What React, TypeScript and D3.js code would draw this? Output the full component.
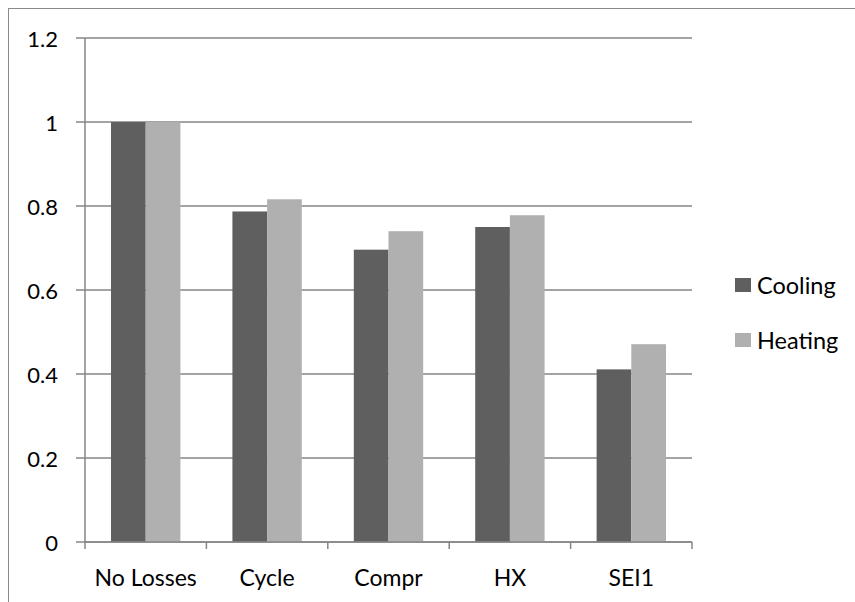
import React from "react";
import * as d3 from "d3";

const categories = ["No Losses", "Cycle", "Compr", "HX", "SEI1"];
const seriesNames = ["Cooling", "Heating"];
const coolingValues = [1.0, 0.787, 0.696, 0.75, 0.411];
const heatingValues = [1.0, 0.816, 0.74, 0.778, 0.471];
const yTicks = [0, 0.2, 0.4, 0.6, 0.8, 1, 1.2];
const seriesColors = ["#5f5f5f", "#b0b0b0"];

const W = 855;
const H = 602;
const plot = { left: 85, right: 692, top: 38, bottom: 542 };
const FONT = "Lato, 'Open Sans', sans-serif";

export default function App() {
  const x = d3
    .scaleBand<string>()
    .domain(categories)
    .range([plot.left, plot.right])
    .paddingInner(0)
    .paddingOuter(0);
  const inner = d3
    .scaleBand<string>()
    .domain(seriesNames)
    .range([0, x.bandwidth()])
    .paddingInner(0)
    .paddingOuter(0.75);
  const y = d3.scaleLinear().domain([0, 1.2]).range([plot.bottom, plot.top]);

  const series = [coolingValues, heatingValues];
  const gridColor = "#868686";

  return (
    <svg
      width={W}
      height={H}
      style={{ position: "absolute", left: 0, top: 0, background: "#fff" }}
      fontFamily={FONT}
    >
      <rect x={8.5} y={8.5} width={W + 20} height={H + 20} fill="#fff" stroke="#8a8a8a" strokeWidth={1} />

      {/* horizontal gridlines and y tick labels */}
      {yTicks.map((t) => (
        <g key={t}>
          <line
            x1={plot.left - 9}
            x2={plot.right}
            y1={y(t)}
            y2={y(t)}
            stroke={gridColor}
            strokeWidth={1.5}
          />
          <text
            x={58}
            y={y(t)}
            textAnchor="end"
            dominantBaseline="central"
            fontSize={22}
            fill="#000"
          >
            {t}
          </text>
        </g>
      ))}

      {/* bars */}
      {categories.map((c, i) => (
        <g key={c} transform={`translate(${x(c)},0)`}>
          {series.map((vals, s) => (
            <rect
              key={s}
              x={inner(seriesNames[s])}
              y={y(vals[i])}
              width={inner.bandwidth()}
              height={y(0) - y(vals[i])}
              fill={seriesColors[s]}
            />
          ))}
        </g>
      ))}

      {/* y axis line */}
      <line x1={plot.left} x2={plot.left} y1={plot.top} y2={plot.bottom} stroke={gridColor} strokeWidth={1.5} />
      {/* x axis line and ticks */}
      <line x1={plot.left} x2={plot.right} y1={plot.bottom} y2={plot.bottom} stroke={gridColor} strokeWidth={1.5} />
      {d3.range(categories.length + 1).map((k) => {
        const xx = plot.left + k * x.bandwidth();
        return (
          <line key={k} x1={xx} x2={xx} y1={plot.bottom} y2={plot.bottom + 7} stroke={gridColor} strokeWidth={1.5} />
        );
      })}
      {categories.map((c) => (
        <text
          key={c}
          x={(x(c) as number) + x.bandwidth() / 2}
          y={577}
          textAnchor="middle"
          dominantBaseline="central"
          fontSize={23}
          fill="#000"
        >
          {c}
        </text>
      ))}

      {/* legend */}
      {seriesNames.map((n, s) => (
        <g key={n} transform={`translate(735,${278 + s * 55})`}>
          <rect x={0} y={0} width={16} height={14} fill={seriesColors[s]} />
          <text x={22} y={7} dominantBaseline="central" fontSize={23.5} fill="#000">
            {n}
          </text>
        </g>
      ))}
    </svg>
  );
}
